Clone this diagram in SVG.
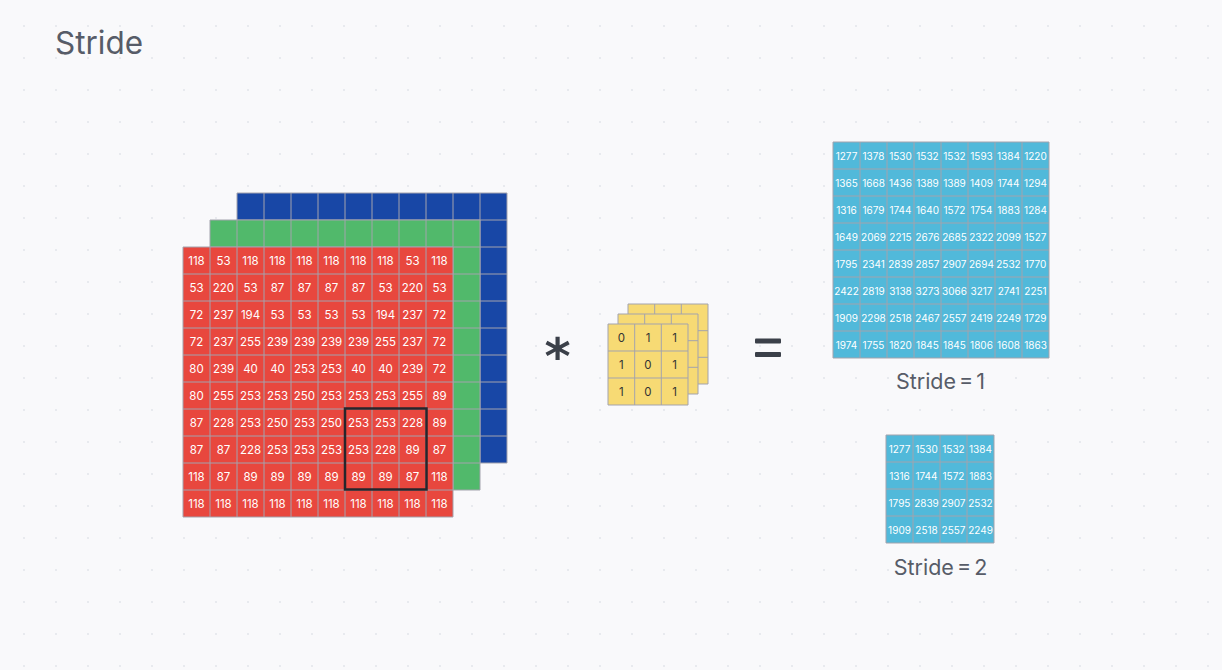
<svg xmlns="http://www.w3.org/2000/svg" width="1222" height="670" viewBox="0 0 1222 670">
<defs>
<pattern id="dots" x="24" y="26" width="32" height="32" patternUnits="userSpaceOnUse">
<circle cx="0" cy="0" r="1.1" fill="#e4e6ec"/>
<circle cx="32" cy="0" r="1.1" fill="#e4e6ec"/>
<circle cx="0" cy="32" r="1.1" fill="#e4e6ec"/>
<circle cx="32" cy="32" r="1.1" fill="#e4e6ec"/>
</pattern>
<style>
.bg{fill:#f9f9fb}
.grid{fill:none;stroke:#a3a3ad;stroke-width:1}
.red{fill:#e8473e}
.green{fill:#51b96b}
.blue{fill:#1847a6}
.yel{fill:#f7da74}
.cyan{fill:#51b9da}
.t{font-family:Inter,"Liberation Sans",sans-serif;text-anchor:middle;dominant-baseline:central}
.rn{font-size:11.5px;fill:#ffffff}
.kn{font-size:11.5px;fill:#333333}
.on{font-size:10px;fill:#ffffff}
.lbl{font-family:Inter,"Liberation Sans",sans-serif;font-size:21.5px;fill:#575c68;text-anchor:middle;word-spacing:-3px}
.title{font-family:Inter,"Liberation Sans",sans-serif;font-size:31.5px;fill:#575c68}
.op{font-family:"DejaVu Sans",sans-serif;font-weight:bold;fill:#3b4049;text-anchor:middle}
</style>
</defs>
<rect class="bg" x="0" y="0" width="1222" height="670"/>
<rect fill="url(#dots)" x="0" y="0" width="1222" height="670"/>

<g id="title"><text class="title" x="55" y="54">Stride</text></g>

<g id="input-blue">
<rect class="blue" x="237" y="193" width="270" height="270"/>
<path class="grid" d="M237 193H507V463H237Z M264 193V463 M291 193V463 M318 193V463 M345 193V463 M372 193V463 M399 193V463 M426 193V463 M453 193V463 M480 193V463 M237 220H507 M237 247H507 M237 274H507 M237 301H507 M237 328H507 M237 355H507 M237 382H507 M237 409H507 M237 436H507"/>
</g>
<g id="input-green">
<rect class="green" x="210" y="220" width="270" height="270"/>
<path class="grid" d="M210 220H480V490H210Z M237 220V490 M264 220V490 M291 220V490 M318 220V490 M345 220V490 M372 220V490 M399 220V490 M426 220V490 M453 220V490 M210 247H480 M210 274H480 M210 301H480 M210 328H480 M210 355H480 M210 382H480 M210 409H480 M210 436H480 M210 463H480"/>
</g>
<g id="input-red">
<rect class="red" x="183" y="247" width="270" height="270"/>
<path class="grid" d="M183 247H453V517H183Z M210 247V517 M237 247V517 M264 247V517 M291 247V517 M318 247V517 M345 247V517 M372 247V517 M399 247V517 M426 247V517 M183 274H453 M183 301H453 M183 328H453 M183 355H453 M183 382H453 M183 409H453 M183 436H453 M183 463H453 M183 490H453"/>
<g class="t rn">
<text x="196.5" y="260.5">118</text><text x="223.5" y="260.5">53</text><text x="250.5" y="260.5">118</text><text x="277.5" y="260.5">118</text><text x="304.5" y="260.5">118</text><text x="331.5" y="260.5">118</text><text x="358.5" y="260.5">118</text><text x="385.5" y="260.5">118</text><text x="412.5" y="260.5">53</text><text x="439.5" y="260.5">118</text>
<text x="196.5" y="287.5">53</text><text x="223.5" y="287.5">220</text><text x="250.5" y="287.5">53</text><text x="277.5" y="287.5">87</text><text x="304.5" y="287.5">87</text><text x="331.5" y="287.5">87</text><text x="358.5" y="287.5">87</text><text x="385.5" y="287.5">53</text><text x="412.5" y="287.5">220</text><text x="439.5" y="287.5">53</text>
<text x="196.5" y="314.5">72</text><text x="223.5" y="314.5">237</text><text x="250.5" y="314.5">194</text><text x="277.5" y="314.5">53</text><text x="304.5" y="314.5">53</text><text x="331.5" y="314.5">53</text><text x="358.5" y="314.5">53</text><text x="385.5" y="314.5">194</text><text x="412.5" y="314.5">237</text><text x="439.5" y="314.5">72</text>
<text x="196.5" y="341.5">72</text><text x="223.5" y="341.5">237</text><text x="250.5" y="341.5">255</text><text x="277.5" y="341.5">239</text><text x="304.5" y="341.5">239</text><text x="331.5" y="341.5">239</text><text x="358.5" y="341.5">239</text><text x="385.5" y="341.5">255</text><text x="412.5" y="341.5">237</text><text x="439.5" y="341.5">72</text>
<text x="196.5" y="368.5">80</text><text x="223.5" y="368.5">239</text><text x="250.5" y="368.5">40</text><text x="277.5" y="368.5">40</text><text x="304.5" y="368.5">253</text><text x="331.5" y="368.5">253</text><text x="358.5" y="368.5">40</text><text x="385.5" y="368.5">40</text><text x="412.5" y="368.5">239</text><text x="439.5" y="368.5">72</text>
<text x="196.5" y="395.5">80</text><text x="223.5" y="395.5">255</text><text x="250.5" y="395.5">253</text><text x="277.5" y="395.5">253</text><text x="304.5" y="395.5">250</text><text x="331.5" y="395.5">253</text><text x="358.5" y="395.5">253</text><text x="385.5" y="395.5">253</text><text x="412.5" y="395.5">255</text><text x="439.5" y="395.5">89</text>
<text x="196.5" y="422.5">87</text><text x="223.5" y="422.5">228</text><text x="250.5" y="422.5">253</text><text x="277.5" y="422.5">250</text><text x="304.5" y="422.5">253</text><text x="331.5" y="422.5">250</text><text x="358.5" y="422.5">253</text><text x="385.5" y="422.5">253</text><text x="412.5" y="422.5">228</text><text x="439.5" y="422.5">89</text>
<text x="196.5" y="449.5">87</text><text x="223.5" y="449.5">87</text><text x="250.5" y="449.5">228</text><text x="277.5" y="449.5">253</text><text x="304.5" y="449.5">253</text><text x="331.5" y="449.5">253</text><text x="358.5" y="449.5">253</text><text x="385.5" y="449.5">228</text><text x="412.5" y="449.5">89</text><text x="439.5" y="449.5">87</text>
<text x="196.5" y="476.5">118</text><text x="223.5" y="476.5">87</text><text x="250.5" y="476.5">89</text><text x="277.5" y="476.5">89</text><text x="304.5" y="476.5">89</text><text x="331.5" y="476.5">89</text><text x="358.5" y="476.5">89</text><text x="385.5" y="476.5">89</text><text x="412.5" y="476.5">87</text><text x="439.5" y="476.5">118</text>
<text x="196.5" y="503.5">118</text><text x="223.5" y="503.5">118</text><text x="250.5" y="503.5">118</text><text x="277.5" y="503.5">118</text><text x="304.5" y="503.5">118</text><text x="331.5" y="503.5">118</text><text x="358.5" y="503.5">118</text><text x="385.5" y="503.5">118</text><text x="412.5" y="503.5">118</text><text x="439.5" y="503.5">118</text>
</g>
</g>
<g id="window"><rect x="345" y="408.5" width="81.5" height="81" fill="none" stroke="#26262c" stroke-width="2.5"/></g>

<g id="op-conv"><text class="op" x="557.5" y="374" font-size="50">*</text></g>

<g id="kernel">
<rect class="yel" x="628" y="304" width="80" height="80"/>
<path class="grid" d="M628 304H708V384H628Z M654.7 304V384 M681.3 304V384 M628 330.7H708 M628 357.3H708"/>
<rect class="yel" x="618" y="314" width="80" height="80"/>
<path class="grid" d="M618 314H698V394H618Z M644.7 314V394 M671.3 314V394 M618 340.7H698 M618 367.3H698"/>
<rect class="yel" x="608" y="324" width="80" height="81"/>
<path class="grid" d="M608 324H688V405H608Z M634.7 324V405 M661.3 324V405 M608 351H688 M608 378H688"/>
<g class="t kn">
<text x="621.3" y="338">0</text><text x="648" y="338">1</text><text x="674.7" y="338">1</text>
<text x="621.3" y="365">1</text><text x="648" y="365">0</text><text x="674.7" y="365">1</text>
<text x="621.3" y="392">1</text><text x="648" y="392">0</text><text x="674.7" y="392">1</text>
</g>
</g>

<g id="op-eq">
<rect x="755" y="338.5" width="26" height="5" rx="1" fill="#3b4049"/>
<rect x="755" y="352" width="26" height="5" rx="1" fill="#3b4049"/>
</g>

<g id="output-stride1">
<rect class="cyan" x="833" y="142" width="216" height="216"/>
<path class="grid" d="M833 142H1049V358H833Z M860 142V358 M887 142V358 M914 142V358 M941 142V358 M968 142V358 M995 142V358 M1022 142V358 M833 169H1049 M833 196H1049 M833 223H1049 M833 250H1049 M833 277H1049 M833 304H1049 M833 331H1049"/>
<g class="t on">
<text x="846.5" y="155.5">1277</text><text x="873.5" y="155.5">1378</text><text x="900.5" y="155.5">1530</text><text x="927.5" y="155.5">1532</text><text x="954.5" y="155.5">1532</text><text x="981.5" y="155.5">1593</text><text x="1008.5" y="155.5">1384</text><text x="1035.5" y="155.5">1220</text>
<text x="846.5" y="182.5">1365</text><text x="873.5" y="182.5">1668</text><text x="900.5" y="182.5">1436</text><text x="927.5" y="182.5">1389</text><text x="954.5" y="182.5">1389</text><text x="981.5" y="182.5">1409</text><text x="1008.5" y="182.5">1744</text><text x="1035.5" y="182.5">1294</text>
<text x="846.5" y="209.5">1316</text><text x="873.5" y="209.5">1679</text><text x="900.5" y="209.5">1744</text><text x="927.5" y="209.5">1640</text><text x="954.5" y="209.5">1572</text><text x="981.5" y="209.5">1754</text><text x="1008.5" y="209.5">1883</text><text x="1035.5" y="209.5">1284</text>
<text x="846.5" y="236.5">1649</text><text x="873.5" y="236.5">2069</text><text x="900.5" y="236.5">2215</text><text x="927.5" y="236.5">2676</text><text x="954.5" y="236.5">2685</text><text x="981.5" y="236.5">2322</text><text x="1008.5" y="236.5">2099</text><text x="1035.5" y="236.5">1527</text>
<text x="846.5" y="263.5">1795</text><text x="873.5" y="263.5">2341</text><text x="900.5" y="263.5">2839</text><text x="927.5" y="263.5">2857</text><text x="954.5" y="263.5">2907</text><text x="981.5" y="263.5">2694</text><text x="1008.5" y="263.5">2532</text><text x="1035.5" y="263.5">1770</text>
<text x="846.5" y="290.5">2422</text><text x="873.5" y="290.5">2819</text><text x="900.5" y="290.5">3138</text><text x="927.5" y="290.5">3273</text><text x="954.5" y="290.5">3066</text><text x="981.5" y="290.5">3217</text><text x="1008.5" y="290.5">2741</text><text x="1035.5" y="290.5">2251</text>
<text x="846.5" y="317.5">1909</text><text x="873.5" y="317.5">2298</text><text x="900.5" y="317.5">2518</text><text x="927.5" y="317.5">2467</text><text x="954.5" y="317.5">2557</text><text x="981.5" y="317.5">2419</text><text x="1008.5" y="317.5">2249</text><text x="1035.5" y="317.5">1729</text>
<text x="846.5" y="344.5">1974</text><text x="873.5" y="344.5">1755</text><text x="900.5" y="344.5">1820</text><text x="927.5" y="344.5">1845</text><text x="954.5" y="344.5">1845</text><text x="981.5" y="344.5">1806</text><text x="1008.5" y="344.5">1608</text><text x="1035.5" y="344.5">1863</text>
</g>
<text class="lbl" x="940.5" y="389">Stride = 1</text>
</g>

<g id="output-stride2">
<rect class="cyan" x="886" y="435" width="108" height="108"/>
<path class="grid" d="M886 435H994V543H886Z M913 435V543 M940 435V543 M967 435V543 M886 462H994 M886 489H994 M886 516H994"/>
<g class="t on">
<text x="899.5" y="448.5">1277</text><text x="926.5" y="448.5">1530</text><text x="953.5" y="448.5">1532</text><text x="980.5" y="448.5">1384</text>
<text x="899.5" y="475.5">1316</text><text x="926.5" y="475.5">1744</text><text x="953.5" y="475.5">1572</text><text x="980.5" y="475.5">1883</text>
<text x="899.5" y="502.5">1795</text><text x="926.5" y="502.5">2839</text><text x="953.5" y="502.5">2907</text><text x="980.5" y="502.5">2532</text>
<text x="899.5" y="529.5">1909</text><text x="926.5" y="529.5">2518</text><text x="953.5" y="529.5">2557</text><text x="980.5" y="529.5">2249</text>
</g>
<text class="lbl" x="940.5" y="575">Stride = 2</text>
</g>
</svg>
